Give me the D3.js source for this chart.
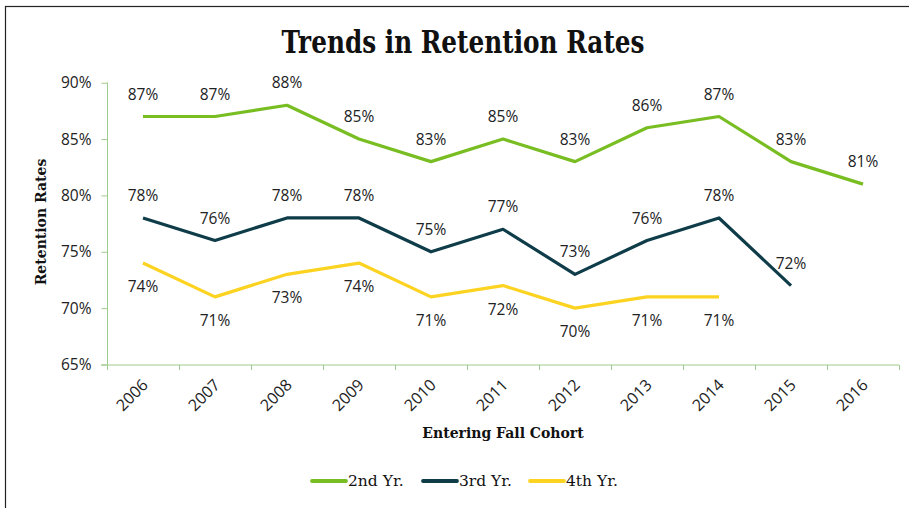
<!DOCTYPE html>
<html>
<head>
<meta charset="utf-8">
<script src="https://cdn.jsdelivr.net/npm/d3@7"></script>
<style>
  body { margin: 0; background: #fff; }
  svg { display: block; }
</style>
</head>
<body>
<svg></svg>
<script>
const years = ['2006', '2007', '2008', '2009', '2010', '2011', '2012', '2013', '2014', '2015', '2016'];
const second = [87, 87, 88, 85, 83, 85, 83, 86, 87, 83, 81];
const third = [78, 76, 78, 78, 75, 77, 73, 76, 78, 72];
const fourth = [74, 71, 73, 74, 71, 72, 70, 71, 71];
const yTicks = [65, 70, 75, 80, 85, 90];
const seriesNames = ['2nd Yr.', '3rd Yr.', '4th Yr.'];

const svg = d3.select('svg')
	.attr('width', 909)
	.attr('height', 508);

const series = [
	{ name: seriesNames[0], values: second, color: '#78bd21', below: false },
	{ name: seriesNames[1], values: third, color: '#0e3c49', below: false },
	{ name: seriesNames[2], values: fourth, color: '#fcd320', below: true }
];

const serif = '"DejaVu Serif", serif',
	sans = '"Open Sans", sans-serif';

// outer frame
svg.append('rect')
	.attr('x', 5.5).attr('y', 6.5)
	.attr('width', 940).attr('height', 540)
	.attr('fill', 'none')
	.attr('stroke', '#222')
	.attr('stroke-width', 1.2);

const xScale = d3.scaleBand()
	.domain(years)
	.range([107, 899]);

const yScale = d3.scaleLinear()
	.domain([65, 90])
	.range([364.5, 82.7]);

const axisColor = '#9dcb8c';

// y axis
const yAxisG = svg.append('g')
	.attr('transform', 'translate(107.5, 0)')
	.call(d3.axisLeft(yScale).tickValues(yTicks).tickSize(6).tickPadding(10)
		.tickFormat(d => d + '%'));
yAxisG.select('.domain').attr('stroke', axisColor).attr('d', `M0,${yScale(90)}V${yScale(65)}`);
yAxisG.selectAll('.tick line').attr('stroke', axisColor);
yAxisG.selectAll('.tick text')
	.attr('font-family', sans)
	.attr('font-size', 15.5)
	.attr('fill', '#222');

// x axis with ticks on band edges
const xAxisG = svg.append('g')
	.attr('transform', `translate(0, ${yScale(65) + 0.5})`);
xAxisG.append('line')
	.attr('x1', 101).attr('x2', 899)
	.attr('stroke', axisColor);
xAxisG.selectAll('.edge')
	.data(years.concat(['end']))
	.enter().append('line')
	.attr('class', 'edge')
	.attr('x1', (d, i) => Math.round(107 + i * xScale.step()) + 0.5)
	.attr('x2', (d, i) => Math.round(107 + i * xScale.step()) + 0.5)
	.attr('y1', 0).attr('y2', 5)
	.attr('stroke', axisColor);
xAxisG.selectAll('.lbl')
	.data(years)
	.enter().append('text')
	.attr('class', 'lbl')
	.attr('text-anchor', 'end')
	.attr('transform', d => `translate(${xScale(d) + xScale.bandwidth() / 2 + 6}, 21) rotate(-45)`)
	.attr('font-family', sans)
	.attr('font-size', 16)
	.attr('fill', '#222')
	.text(d => d);

// titles
svg.append('text')
	.attr('x', 463).attr('y', 53)
	.attr('text-anchor', 'middle')
	.attr('font-family', serif)
	.attr('font-weight', 'bold')
	.attr('font-size', 31)
	.attr('textLength', 363)
	.attr('lengthAdjust', 'spacingAndGlyphs')
	.attr('fill', '#111')
	.text('Trends in Retention Rates');

svg.append('text')
	.attr('transform', 'translate(46, 222) rotate(-90)')
	.attr('text-anchor', 'middle')
	.attr('font-family', serif)
	.attr('font-weight', 'bold')
	.attr('font-size', 14)
	.attr('fill', '#111')
	.text('Retention Rates');

svg.append('text')
	.attr('x', 503).attr('y', 438)
	.attr('text-anchor', 'middle')
	.attr('font-family', serif)
	.attr('font-weight', 'bold')
	.attr('font-size', 14)
	.attr('fill', '#111')
	.text('Entering Fall Cohort');

// lines
const line = d3.line()
	.x((d, i) => xScale(years[i]) + xScale.bandwidth() / 2)
	.y(d => yScale(d));

series.forEach(s => {
	svg.append('path')
		.attr('d', line(s.values))
		.attr('fill', 'none')
		.attr('stroke', s.color)
		.attr('stroke-width', 3.2)
		.attr('stroke-linejoin', 'round');

	svg.selectAll(null)
		.data(s.values)
		.enter().append('text')
		.attr('x', (d, i) => xScale(years[i]) + xScale.bandwidth() / 2)
		.attr('y', d => yScale(d) + (s.below ? 29 : -17))
		.attr('text-anchor', 'middle')
		.attr('font-family', sans)
		.attr('font-size', 15.5)
		.attr('fill', '#222')
		.text(d => d + '%');
});

// legend
const legendX = [312, 423, 530];
const legend = svg.append('g');
series.forEach((s, i) => {
	legend.append('line')
		.attr('x1', legendX[i]).attr('x2', legendX[i] + 34)
		.attr('y1', 481).attr('y2', 481)
		.attr('stroke', s.color)
		.attr('stroke-width', 3.8)
		.attr('stroke-linecap', 'round');
	legend.append('text')
		.attr('x', legendX[i] + 36).attr('y', 486)
		.attr('font-family', serif)
		.attr('font-size', 15.5)
		.attr('fill', '#111')
		.text(s.name);
});
</script>
</body>
</html>
